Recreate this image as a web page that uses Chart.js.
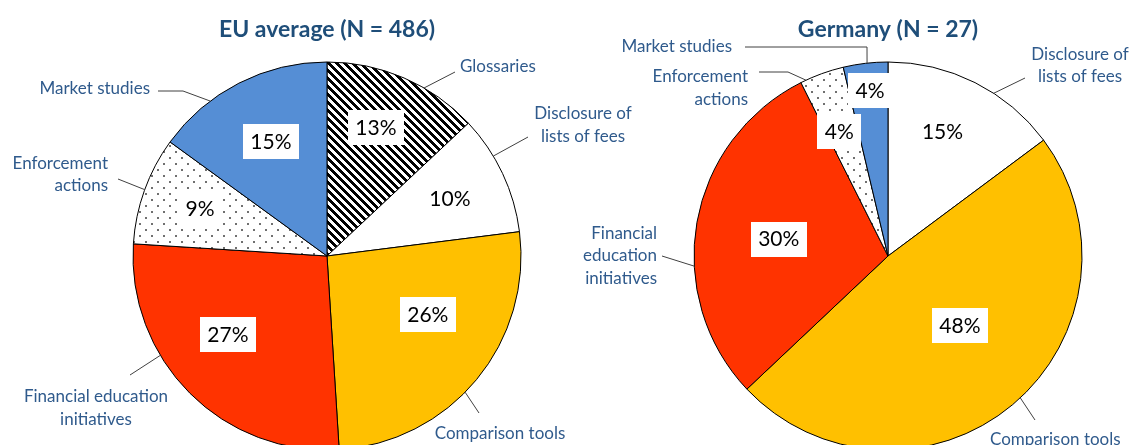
<!DOCTYPE html>
<html>
<head>
<meta charset="utf-8">
<script src="https://cdn.jsdelivr.net/npm/chart.js@4"></script>
<style>
  html, body { margin: 0; padding: 0; background: #fff; overflow: hidden; }
  #wrap { position: relative; width: 1133px; height: 445px; overflow: hidden; }
  #wrap canvas { position: absolute; left: 0; top: 0; }
</style>
</head>
<body>
<div id="wrap">
  <canvas id="euChart" width="1133" height="470"></canvas>
  <canvas id="deChart" width="1133" height="470"></canvas>
</div>
<script>
// Slices, clockwise from 12 o'clock
const categories = ['Glossaries', 'Disclosure of lists of fees', 'Comparison tools',
  'Financial education initiatives', 'Enforcement actions', 'Market studies'];
const euShares = [13, 10, 26, 27, 9, 15];   // % of answers, EU average
const euN = 486;
const deCounts = [0, 4, 13, 8, 1, 1];       // answers, Germany
const deN = 27;

const FONT = 'Lato, "Open Sans", sans-serif';
const LABEL_COLOR = '#2F5A8C';
const TITLE_COLOR = '#1F4E79';
const RADIUS = 194;

// fill patterns (wide downward diagonal, small dots)
function hatchPattern() {
  const c = document.createElement('canvas');
  c.width = 8; c.height = 8;
  const g = c.getContext('2d');
  g.fillStyle = '#fff';
  g.fillRect(0, 0, 8, 8);
  g.fillStyle = '#000';
  for (let y = 0; y < 8; y++) {
    for (let x = 0; x < 8; x++) {
      if ((((x - y) % 8) + 8) % 8 < 4) g.fillRect(x, y, 1, 1);
    }
  }
  return g.createPattern(c, 'repeat');
}

function dotPattern() {
  const c = document.createElement('canvas');
  c.width = 12; c.height = 12;
  const g = c.getContext('2d');
  g.fillStyle = '#fff';
  g.fillRect(0, 0, 12, 12);
  g.fillStyle = '#707070';
  g.fillRect(1, 1, 2, 2);
  g.fillRect(7, 7, 2, 2);
  return g.createPattern(c, 'repeat');
}

const fills = [hatchPattern(), '#FFFFFF', '#FFC000', '#FF3300', dotPattern(), '#558ED5'];

// Label layout, offsets in px from the pie centre; angles clockwise from 12 o'clock
const euLayout = {
  inner: [
    { f: 0.71, da: -2.6 }, { f: 0.70, da: 0 }, { f: 0.60, da: -9.6 },
    { f: 0.65, da: 6.8 }, { f: 0.70, da: 1 }, { f: 0.66, da: 1 }
  ],
  outer: [
    { i: 0, at: 30, end: [128, -184], text: [133, -189], align: 'left', wrap: 220 },
    { i: 1, at: 59, end: [201, -119], text: [256, -131], align: 'center', wrap: 118 },
    { i: 2, at: 134.6, end: [152, 157], text: [173, 178], align: 'center', wrap: 220 },
    { i: 3, at: 239.2, end: [-197, 119], text: [-231, 152], align: 'center', wrap: 180 },
    { i: 4, at: 290, end: [-209, -77], text: [-219, -81.5], align: 'right', wrap: 118 },
    { i: 5, at: 323, elbow: [-144, -165], end: [-169, -165], text: [-177, -167], align: 'right', wrap: 220 }
  ]
};

const deLayout = {
  inner: [
    null, { f: 0.70, da: -3 }, { f: 0.515, da: -6 },
    { f: 0.57, da: -1 }, { f: 0.69, da: -1.3 }, { f: 0.86, da: 0.5 }
  ],
  outer: [
    { i: 1, at: 33, end: [137, -178], text: [192, -190.5], align: 'center', wrap: 118 },
    { i: 2, at: 137, end: [147, 164], text: [102, 184], align: 'left', wrap: 220 },
    { i: 3, at: 267, end: [-226, 0], text: [-231, 0], align: 'right', wrap: 90 },
    { i: 4, at: 335, elbow: [-100, -184], end: [-129, -184], text: [-140, -168], align: 'right', wrap: 118 },
    { i: 5, at: 353.8, elbow: [-21, -209], end: [-143, -209], text: [-156, -209], align: 'right', wrap: 220 }
  ]
};

function wrapText(ctx, text, maxWidth) {
  const words = text.split(' ');
  const lines = [];
  let line = '';
  words.forEach(w => {
    const test = line ? line + ' ' + w : w;
    if (line && ctx.measureText(test).width > maxWidth) {
      lines.push(line);
      line = w;
    } else {
      line = test;
    }
  });
  if (line) lines.push(line);
  return lines;
}

// Draws the percentage boxes inside the slices and the category labels with leader lines
function sliceLabels(percentages, layout) {
  return {
    id: 'sliceLabels',
    afterDatasetsDraw(chart) {
      const ctx = chart.ctx;
      const meta = chart.getDatasetMeta(0);
      ctx.save();

      // percentages
      ctx.font = '21px ' + FONT;
      ctx.textAlign = 'center';
      ctx.textBaseline = 'middle';
      meta.data.forEach((arc, i) => {
        const pos = layout.inner[i];
        if (!pos || !percentages[i]) return;
        const p = arc.getProps(['x', 'y', 'startAngle', 'endAngle', 'outerRadius'], true);
        const mid = (p.startAngle + p.endAngle) / 2 + pos.da * Math.PI / 180;
        const tx = p.x + Math.cos(mid) * p.outerRadius * pos.f;
        const ty = p.y + Math.sin(mid) * p.outerRadius * pos.f;
        const label = percentages[i] + '%';
        const w = ctx.measureText(label).width + 15;
        ctx.fillStyle = '#fff';
        ctx.fillRect(Math.round(tx - w / 2), Math.round(ty - 17), Math.round(w), 35);
        ctx.fillStyle = '#000';
        ctx.fillText(label, tx, ty + 1);
      });

      // category labels
      ctx.font = '17px ' + FONT;
      ctx.strokeStyle = '#404040';
      ctx.lineWidth = 1;
      layout.outer.forEach(item => {
        const arc = meta.data[item.i];
        const p = arc.getProps(['x', 'y', 'outerRadius'], true);
        const a = item.at * Math.PI / 180;
        ctx.beginPath();
        ctx.moveTo(p.x + Math.sin(a) * p.outerRadius, p.y - Math.cos(a) * p.outerRadius);
        if (item.elbow) ctx.lineTo(p.x + item.elbow[0], p.y + item.elbow[1]);
        ctx.lineTo(p.x + item.end[0], p.y + item.end[1]);
        ctx.stroke();

        const lines = wrapText(ctx, chart.data.labels[item.i], item.wrap);
        const lh = 22.5;
        ctx.fillStyle = LABEL_COLOR;
        ctx.textAlign = item.align;
        lines.forEach((ln, k) => {
          const ly = p.y + item.text[1] + (k - (lines.length - 1) / 2) * lh;
          ctx.fillText(ln, p.x + item.text[0], ly);
        });
      });
      ctx.restore();
    }
  };
}

function makePie(canvasId, values, percentages, title, padding, layout) {
  return new Chart(document.getElementById(canvasId), {
    type: 'pie',
    data: {
      labels: categories,
      datasets: [{
        data: values,
        backgroundColor: fills,
        borderColor: '#000',
        borderWidth: 1,
        hoverOffset: 0,
        radius: RADIUS
      }]
    },
    options: {
      responsive: false,
      animation: false,
      events: [],
      layout: { padding: padding },
      plugins: {
        legend: { display: false },
        tooltip: { enabled: false },
        title: {
          display: true,
          text: title,
          color: TITLE_COLOR,
          font: { family: FONT, size: 23, weight: 'bold', lineHeight: 1.2 },
          padding: { top: 15.5, bottom: 7.9 }
        }
      }
    },
    plugins: [sliceLabels(percentages, layout)]
  });
}

const dePercent = deCounts.map(c => Math.round(c / deN * 100));

Promise.all([
  document.fonts.load('bold 23px Lato'),
  document.fonts.load('21px Lato')
]).catch(() => {}).then(() => {
  makePie('euChart', euShares, euShares, 'EU average (N = ' + euN + ')',
    { left: 0, right: 479, top: 0, bottom: 9 }, euLayout);
  makePie('deChart', deCounts, dePercent, 'Germany (N = ' + deN + ')',
    { left: 643, right: 0, top: 0, bottom: 9 }, deLayout);
});
</script>
</body>
</html>
